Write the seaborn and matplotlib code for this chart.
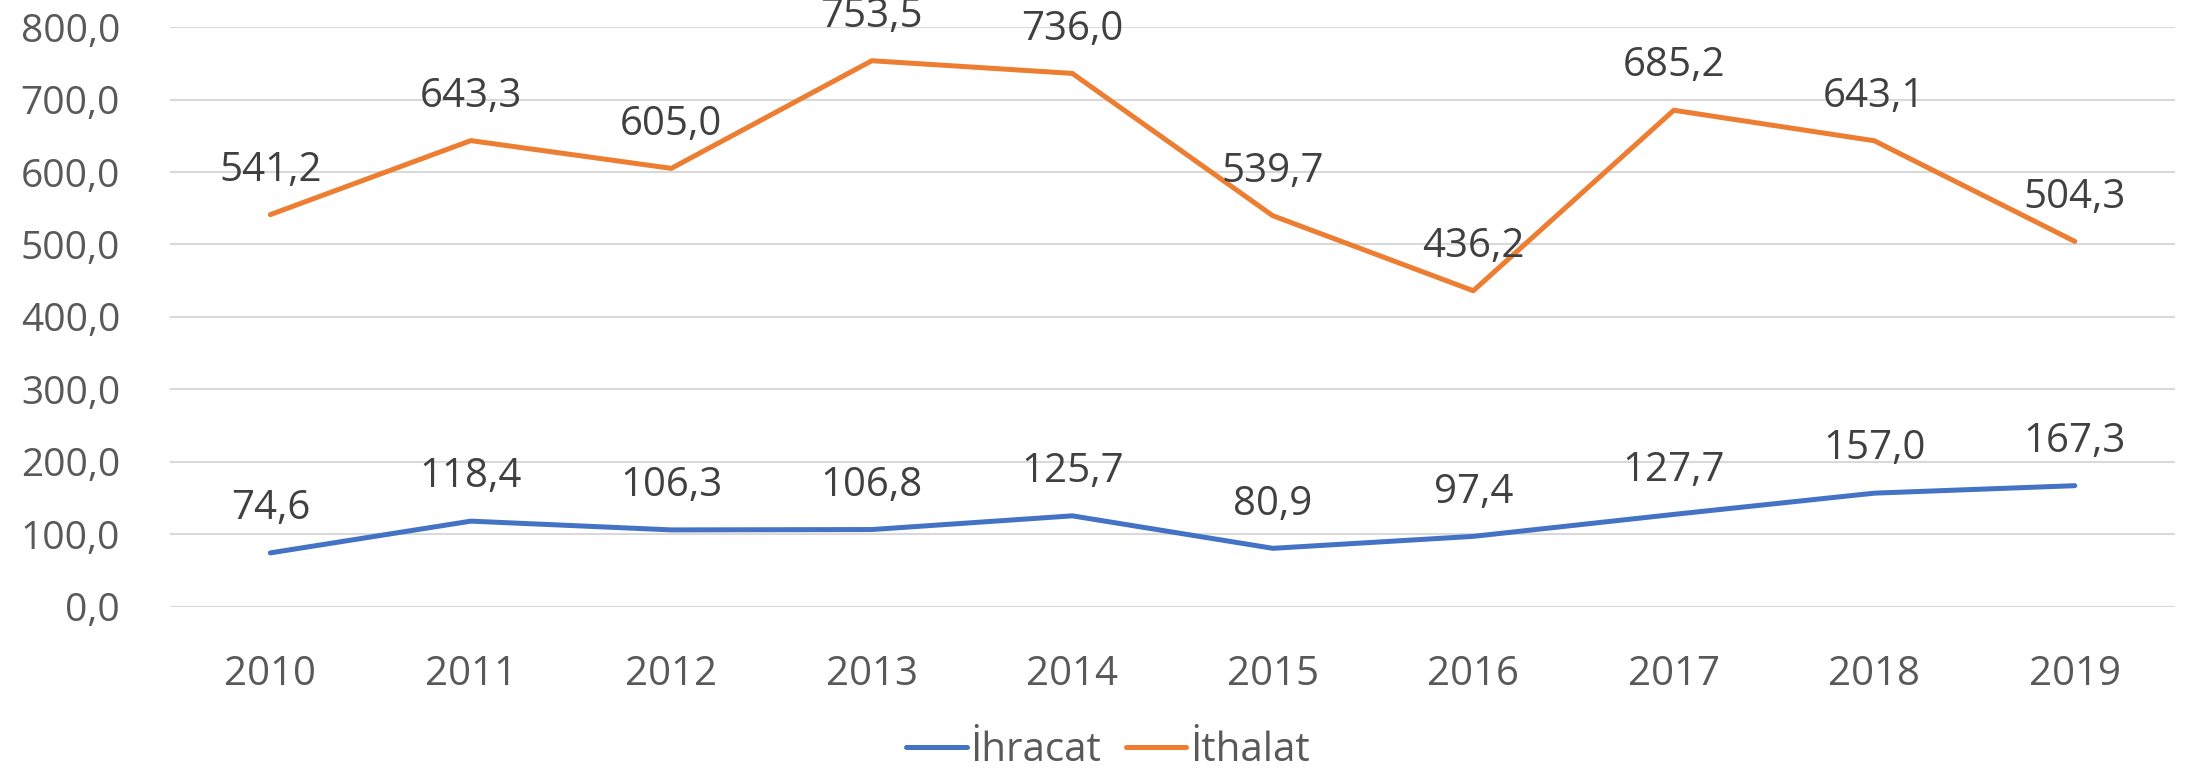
import numpy as np
import pandas as pd
import matplotlib
matplotlib.use('Agg')
import matplotlib.pyplot as plt
import seaborn as sns

# Data
years = ['2010', '2011', '2012', '2013', '2014', '2015', '2016', '2017', '2018', '2019']
ihracat = [74.6, 118.4, 106.3, 106.8, 125.7, 80.9, 97.4, 127.7, 157.0, 167.3]
ithalat = [541.2, 643.3, 605.0, 753.5, 736.0, 539.7, 436.2, 685.2, 643.1, 504.3]
series_names = ['İhracat', 'İthalat']
colors = ['#4472C4', '#ED7D31']
y_ticks = [0, 100, 200, 300, 400, 500, 600, 700, 800]

df = pd.DataFrame({
    'Yıl': years * 2,
    'Değer': ihracat + ithalat,
    'Seri': [series_names[0]] * len(years) + [series_names[1]] * len(years),
})

sns.set_style('white')
plt.rcParams['font.family'] = ['Open Sans', 'DejaVu Sans']

fig = plt.figure(figsize=(22.03, 7.74), dpi=100)
ax = fig.add_axes([0.0772, 0.2158, 0.9101, 0.7493])

sns.lineplot(data=df, x='Yıl', y='Değer', hue='Seri', palette=colors,
             linewidth=3.6, ax=ax, legend=False, sort=False)

# data labels above each point
for vals in (ihracat, ithalat):
    for i, v in enumerate(vals):
        ax.annotate(f'{v:.1f}'.replace('.', ','), (i, v), xytext=(0, 44),
                    textcoords='offset pixels', ha='center', va='center',
                    fontsize=29, color='#404040', annotation_clip=False)

ax.set_xlim(-0.5, len(years) - 0.5)
ax.set_ylim(0, 800)
ax.set_yticks(y_ticks)
ax.set_yticklabels([f'{t:.1f}'.replace('.', ',') for t in y_ticks])
ax.grid(axis='y', color='#D9D9D9', linewidth=1.5)
ax.set_axisbelow(True)
ax.tick_params(axis='y', length=0, pad=36, labelsize=28, labelcolor='#595959')
ax.tick_params(axis='x', length=0, pad=34, labelsize=29, labelcolor='#595959')
ax.set_xlabel('')
ax.set_ylabel('')
sns.despine(left=True, bottom=True)

handles = [plt.Line2D([], [], color=c, linewidth=3.6) for c in colors]
fig.legend(handles, series_names, loc='center', bbox_to_anchor=(0.503, 0.03),
           ncol=2, frameon=False, fontsize=29, labelcolor='#595959',
           handlelength=1.5, handletextpad=0.1, columnspacing=0.6)

fig.savefig('out.png', dpi=100)
